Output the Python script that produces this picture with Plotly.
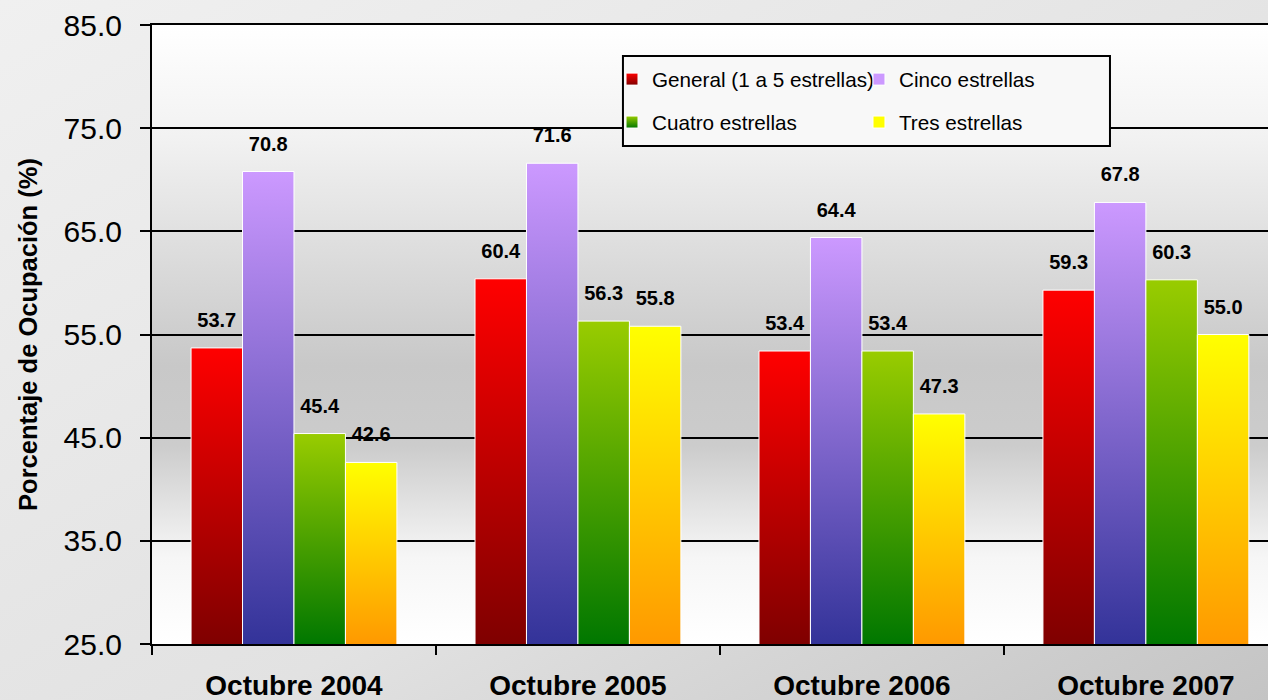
import base64
import plotly.graph_objects as go

periodos = ['Octubre 2004', 'Octubre 2005', 'Octubre 2006', 'Octubre 2007']
series = ['General (1 a 5 estrellas)', 'Cinco estrellas', 'Cuatro estrellas', 'Tres estrellas']
general = [53.7, 60.4, 53.4, 59.3]
cinco = [70.8, 71.6, 64.4, 67.8]
cuatro = [45.4, 56.3, 53.4, 60.3]
tres = [42.6, 55.8, 47.3, 55.0]
y_ticks = [25, 35, 45, 55, 65, 75, 85]

valores = [general, cinco, cuatro, tres]
# colour at top / bottom of each bar gradient
colores = [('#ff0000', '#7f0000'), ('#cc99ff', '#333399'),
           ('#99cc00', '#007700'), ('#ffff00', '#ff9900')]
# legend column for each series (2 x 2 grid)
leyenda_col = ['legend', 'legend2', 'legend', 'legend2']


def svg_uri(svg):
    return 'data:image/svg+xml;base64,' + base64.b64encode(svg.encode()).decode()


fondo_plot = svg_uri(
    '<svg xmlns="http://www.w3.org/2000/svg" width="10" height="100" preserveAspectRatio="none">'
    '<defs><linearGradient id="g" x1="0" y1="0" x2="0" y2="1">'
    '<stop offset="0" stop-color="#ffffff"/><stop offset="0.18" stop-color="#f2f2f2"/>'
    '<stop offset="0.55" stop-color="#c8c8c8"/><stop offset="0.68" stop-color="#cccccc"/>'
    '<stop offset="0.86" stop-color="#f6f6f6"/><stop offset="1" stop-color="#ffffff"/>'
    '</linearGradient></defs><rect width="10" height="100" fill="url(#g)"/></svg>')

fondo_papel = svg_uri(
    '<svg xmlns="http://www.w3.org/2000/svg" width="100" height="100" preserveAspectRatio="none">'
    '<defs><linearGradient id="p" x1="0" y1="0" x2="1" y2="1">'
    '<stop offset="0" stop-color="#f0f0f0"/><stop offset="0.6" stop-color="#e2e2e2"/>'
    '<stop offset="1" stop-color="#c4c4c4"/>'
    '</linearGradient></defs><rect width="100" height="100" fill="url(#p)"/></svg>')

fig = go.Figure()

for k, (nombre, vals) in enumerate(zip(series, valores)):
    fig.add_trace(go.Bar(
        x=periodos, y=vals, name=nombre,
        marker=dict(color=colores[k][0], line=dict(color='white', width=1)),
        offsetgroup=nombre, hoverinfo='skip',
        legend=leyenda_col[k], legendgroup=nombre
    ))

for nombre, vals in zip(series, valores):
    fig.add_trace(go.Scatter(
        x=periodos, y=vals, mode='markers+text', offsetgroup=nombre,
        marker=dict(size=24, opacity=0), showlegend=False, hoverinfo='skip',
        text=[f'{v:.1f}' for v in vals], textposition='top center',
        textfont=dict(family='Liberation Sans, Arial', size=20, color='black', weight='bold'),
        cliponaxis=False
    ))

ley = dict(
    orientation='v', y=0.9448, xanchor='left', yanchor='top',
    bgcolor='rgba(0,0,0,0)', borderwidth=0, traceorder='grouped', tracegroupgap=13,
    font=dict(size=20.7, family='Liberation Sans, Arial'),
)

fig.update_layout(
    width=1268, height=700,
    margin=dict(l=152, r=0, t=25, b=56),
    barmode='group', bargap=0.275, bargroupgap=0,
    scattermode='group', scattergap=0.275,
    paper_bgcolor='#e4e4e4', plot_bgcolor='rgba(0,0,0,0)',
    font=dict(family='Liberation Sans, Arial', color='black'),
    images=[
        dict(source=fondo_papel, xref='paper', yref='paper', x=-152 / 1116, y=1 + 25 / 619,
             sizex=1268 / 1116, sizey=700 / 619, sizing='stretch', layer='below'),
        dict(source=fondo_plot, xref='paper', yref='paper', x=0, y=1,
             sizex=1, sizey=1, sizing='stretch', layer='below'),
    ],
    # legend frame
    shapes=[dict(type='rect', xref='paper', yref='paper', layer='above',
                 x0=0.422, x1=0.8584, y0=0.8045, y1=0.9499,
                 fillcolor='#f8f8f8', line=dict(color='black', width=2))],
    legend=dict(ley, x=0.4122),
    legend2=dict(ley, x=0.6335),
    showlegend=True,
)

fig.update_xaxes(
    range=[-0.5, 3.43], showline=True, linecolor='black', linewidth=2, mirror=True,
    ticks='outside', tickson='boundaries', ticklen=9, tickwidth=2, tickcolor='black',
    tickfont=dict(size=28, weight='bold'), ticklabelstandoff=15, showgrid=False,
    automargin=False
)
fig.update_yaxes(
    range=[25, 85], tickvals=y_ticks, tickformat='.1f',
    showline=True, linecolor='black', linewidth=2,
    ticks='outside', ticklen=10, tickwidth=2, tickcolor='black',
    tickfont=dict(size=30), ticklabelstandoff=12,
    showgrid=True, gridcolor='black', gridwidth=2, zeroline=False, automargin=False,
    title=dict(text='Porcentaje de Ocupación (%)', font=dict(size=25.5, weight='bold'), standoff=19)
)

# page without body margin; vertical gradients for bars (visible part) and legend symbols
grad_js = """
document.body.style.margin = '0';
(function(){
var cols = %s;
var names = %s;
var ns = 'http://www.w3.org/2000/svg';
function grad(defs, id, c, units, y1, y2){
  var lg = document.createElementNS(ns, 'linearGradient');
  lg.id = id; lg.setAttribute('gradientUnits', units);
  lg.setAttribute('x1','0'); lg.setAttribute('x2','0');
  lg.setAttribute('y1', y1); lg.setAttribute('y2', y2);
  [[0,c[0]],[1,c[1]]].forEach(function(s){
    var st = document.createElementNS(ns, 'stop');
    st.setAttribute('offset', s[0]); st.setAttribute('stop-color', s[1]);
    lg.appendChild(st);
  });
  defs.appendChild(lg);
}
function paint(){
  var gd = document.getElementById('{plot_id}');
  if(!gd || !gd._fullLayout) return;
  var svg = gd.querySelector('svg.main-svg');
  var old = svg.querySelector('defs#bargrads');
  if(old) old.remove();
  var defs = document.createElementNS(ns, 'defs'); defs.id = 'bargrads';
  svg.insertBefore(defs, svg.firstChild);
  var h = gd._fullLayout._size.h;
  gd.querySelectorAll('.barlayer .trace.bars').forEach(function(t, i){
    t.querySelectorAll('.point path').forEach(function(p, j){
      var b = p.getBBox();
      var id = 'bg' + i + '_' + j;
      grad(defs, id, cols[i], 'userSpaceOnUse', b.y, Math.min(b.y + b.height, h));
      p.style.fill = 'url(#' + id + ')';
    });
  });
  gd.querySelectorAll('.legend .traces').forEach(function(t){
    var txt = t.querySelector('.legendtext');
    var i = txt ? names.indexOf(txt.textContent) : -1;
    if(i < 0) return;
    var id = 'lg' + i;
    grad(defs, id, cols[i], 'objectBoundingBox', 0, 1);
    t.querySelectorAll('.legendpoints path').forEach(function(p){ p.style.fill = 'url(#' + id + ')'; });
  });
}
paint(); setTimeout(paint, 100); setTimeout(paint, 500);
})();
""" % (str([list(c) for c in colores]).replace("'", '"'), str(series).replace("'", '"'))

fig.write_html("out.html", post_script=grad_js, config={'displayModeBar': False})
